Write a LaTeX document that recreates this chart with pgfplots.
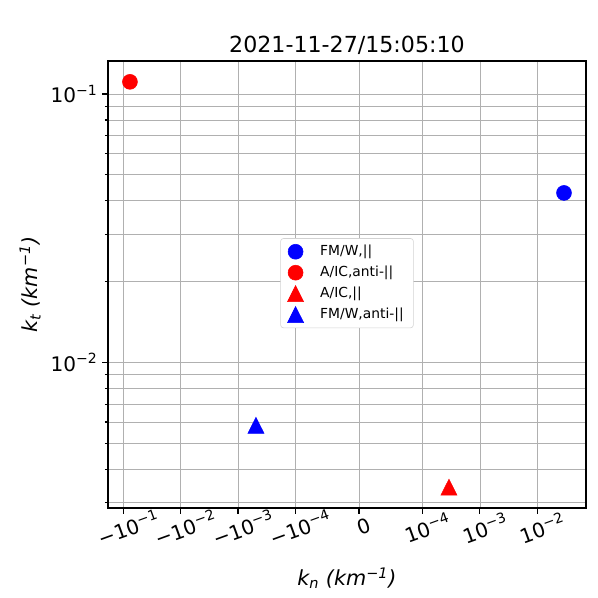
\documentclass[border=0pt]{standalone}
\usepackage{fontspec}
\setmainfont{DejaVu Sans}
\usepackage{pgfplots}
\pgfplotsset{compat=1.18}
\usepackage{pgfplotstable}
% symlog axis (linthresh = 1e-4): x position = sign(kn)*(1.1111+log10(|kn|/1e-4))
\pgfplotstableread{
kn kt
0.0293 0.0428
}\fmwpar
\pgfplotstableread{
kn kt
-0.0769 0.111
}\aicanti
\pgfplotstableread{
kn kt
0.000288 0.00343
}\aicpar
\pgfplotstableread{
kn kt
-0.000486 0.00583
}\fmwanti
\definecolor{gridgray}{HTML}{B0B0B0}
\begin{document}
\begin{tikzpicture}
\begin{axis}[
  at={(0,0)}, anchor=south west,
  scale only axis, width=4.78in, height=4.47in,
  xmin=-4.38, xmax=3.962,
  ymode=log, ymin=0.00287, ymax=0.1327,
  xtick={-4.1111,-3.1111,-2.1111,-1.1111,0,1.1111,2.1111,3.1111},
  xticklabels={−10\textsuperscript{−1},−10\textsuperscript{−2},−10\textsuperscript{−3},−10\textsuperscript{−4},0,10\textsuperscript{−4},10\textsuperscript{−3},10\textsuperscript{−2}},
  ytick={0.01,0.1},
  yticklabels={10\textsuperscript{−2},10\textsuperscript{−1}},
  minor ytick={0.003,0.004,0.005,0.006,0.007,0.008,0.009,0.02,0.03,0.04,0.05,0.06,0.07,0.08,0.09},
  xmajorgrids=true, ymajorgrids=true, yminorgrids=true,
  grid style={gridgray, line width=0.6pt},
  minor grid style={gridgray, line width=0.6pt},
  axis line style={black, line width=0.8pt},
  tick align=outside, xtick pos=bottom, ytick pos=left,
  major tick length=4pt, minor tick length=2.3pt,
  every tick/.style={black, line width=0.8pt},
  tick label style={font=\fontsize{14.5}{17}\selectfont},
  xticklabel style={rotate=20, anchor=north, yshift=-1pt},
  every axis title shift=0pt,
  title={2021-11-27/15:05:10},
  title style={font=\fontsize{16}{19}\selectfont, at={(axis description cs:0.5,1.036)}, anchor=center},
  xlabel={\textit{k\textsubscript{n} (km\textsuperscript{−1})}},
  ylabel={\textit{k\textsubscript{t} (km\textsuperscript{−1})}},
  label style={font=\fontsize{15}{18}\selectfont},
  xlabel style={at={(axis description cs:0.5,-0.157)}, anchor=center},
  ylabel style={at={(axis description cs:-0.163,0.5)}, anchor=center, rotate=0},
  legend style={at={(0.5,0.503)}, anchor=center, font=\fontsize{10}{12}\selectfont,
    draw=gray!35, rounded corners=2pt, fill=white,
    inner xsep=5pt, inner ysep=3pt, row sep=2pt,
    /tikz/every odd column/.append style={column sep=10pt}},
  legend cell align=left,
]
\addplot[only marks, mark=*, mark size=5.4pt, color=blue, mark options={draw=blue, fill=blue}]
  table[x expr={(\thisrow{kn}>0 ? 1 : -1)*(1.1111+ln(abs(\thisrow{kn})*10000)/2.302585)}, y=kt]{\fmwpar};
\addlegendentry{FM/W,||}
\addplot[only marks, mark=*, mark size=5.4pt, color=red, mark options={draw=red, fill=red}]
  table[x expr={(\thisrow{kn}>0 ? 1 : -1)*(1.1111+ln(abs(\thisrow{kn})*10000)/2.302585)}, y=kt]{\aicanti};
\addlegendentry{A/IC,anti-||}
\addplot[only marks, mark=triangle*, mark size=6.7pt, color=red, mark options={draw=red, fill=red, yshift=-1.9pt, yscale=1.15}]
  table[x expr={(\thisrow{kn}>0 ? 1 : -1)*(1.1111+ln(abs(\thisrow{kn})*10000)/2.302585)}, y=kt]{\aicpar};
\addlegendentry{A/IC,||}
\addplot[only marks, mark=triangle*, mark size=6.7pt, color=blue, mark options={draw=blue, fill=blue, yshift=-1.9pt, yscale=1.15}]
  table[x expr={(\thisrow{kn}>0 ? 1 : -1)*(1.1111+ln(abs(\thisrow{kn})*10000)/2.302585)}, y=kt]{\fmwanti};
\addlegendentry{FM/W,anti-||}
\end{axis}
\useasboundingbox (-1.08in,-0.90in) rectangle (4.90in,5.08in);
\end{tikzpicture}
\end{document}
